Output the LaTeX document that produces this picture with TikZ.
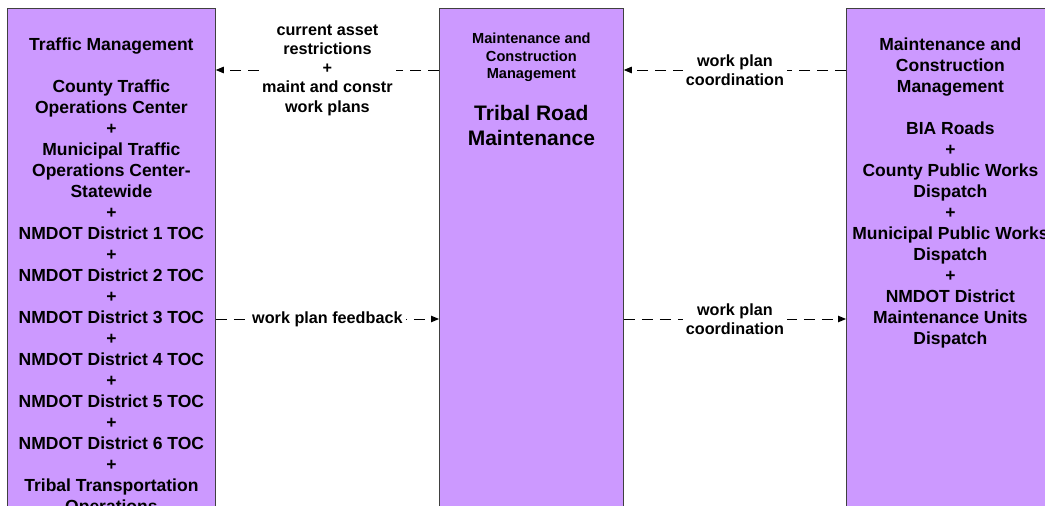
\documentclass[tikz,border=0pt]{standalone}
\usepackage{fontspec}
\setmainfont{Liberation Sans}
\usepackage{xcolor}
\usepackage{tikz}
\usetikzlibrary{
  positioning,
  arrows.meta
}
\definecolor{boxpurple}{RGB}{204,153,255}
\definecolor{boxedge}{RGB}{64,64,64}

\begin{document}
\begin{tikzpicture}[
  x=1pt, y=-1pt,
  >={Triangle[length=8pt, width=6.5pt]},
  box/.style={draw=boxedge, fill=boxpurple, line width=0.8pt,
              minimum width=208pt, minimum height=700pt,
              anchor=north west, inner sep=0pt},
  boxtext/.style={inner sep=0pt, anchor=north, align=center,
                  font=\fontsize{17.5}{21}\selectfont\bfseries},
  lbl/.style={fill=white, inner xsep=3pt, inner ysep=0pt, align=center,
              font=\fontsize{16.2}{19.3}\selectfont\bfseries},
  arr/.style={->, line width=0.9pt, dash pattern=on 11pt off 7pt},
]
\useasboundingbox (0,0) rectangle (1045,506);
\clip (0,0) rectangle (1045,506);

\node[box] (traffic) at (7,8) {};
\node[box, minimum width=184pt] (tribal) at (439,8) {};
\node[box] (mcm) at (846,8) {};

\node[boxtext, below=29.5pt of traffic.north] (traffictxt)
  {Traffic Management\\[21pt]County Traffic\\Operations Center\\+\\
   Municipal Traffic\\Operations Center-\\Statewide\\+\\
   NMDOT District 1 TOC\\+\\NMDOT District 2 TOC\\+\\
   NMDOT District 3 TOC\\+\\NMDOT District 4 TOC\\+\\
   NMDOT District 5 TOC\\+\\NMDOT District 6 TOC\\+\\
   Tribal Transportation\\Operations};
\node[boxtext, font=\fontsize{14.6}{17.5}\selectfont\bfseries,
      below=25pt of tribal.north] (tribalcat)
  {Maintenance and\\Construction\\Management};
\node[boxtext, font=\fontsize{21}{25}\selectfont\bfseries,
      below=97pt of tribal.north] (tribalname)
  {Tribal Road\\Maintenance};
\node[boxtext, below=29.5pt of mcm.north] (mcmtxt)
  {Maintenance and\\Construction\\Management\\[21pt]BIA Roads\\+\\
   County Public Works\\Dispatch\\+\\Municipal Public Works\\Dispatch\\+\\
   NMDOT District\\Maintenance Units\\Dispatch};

\coordinate (upper) at (0,70);
\coordinate (lower) at (0,319);

\draw[arr] (tribal.west |- upper) -- node[lbl]
  {current asset\\restrictions\\+\\maint and constr\\work plans}
  (traffic.east |- upper);
\draw[arr] (mcm.west |- upper) -- node[lbl] {work plan\\coordination}
  (tribal.east |- upper);
\draw[arr] (traffic.east |- lower) -- node[lbl] {work plan feedback}
  (tribal.west |- lower);
\draw[arr] (tribal.east |- lower) -- node[lbl] {work plan\\coordination}
  (mcm.west |- lower);

\end{tikzpicture}
\end{document}
